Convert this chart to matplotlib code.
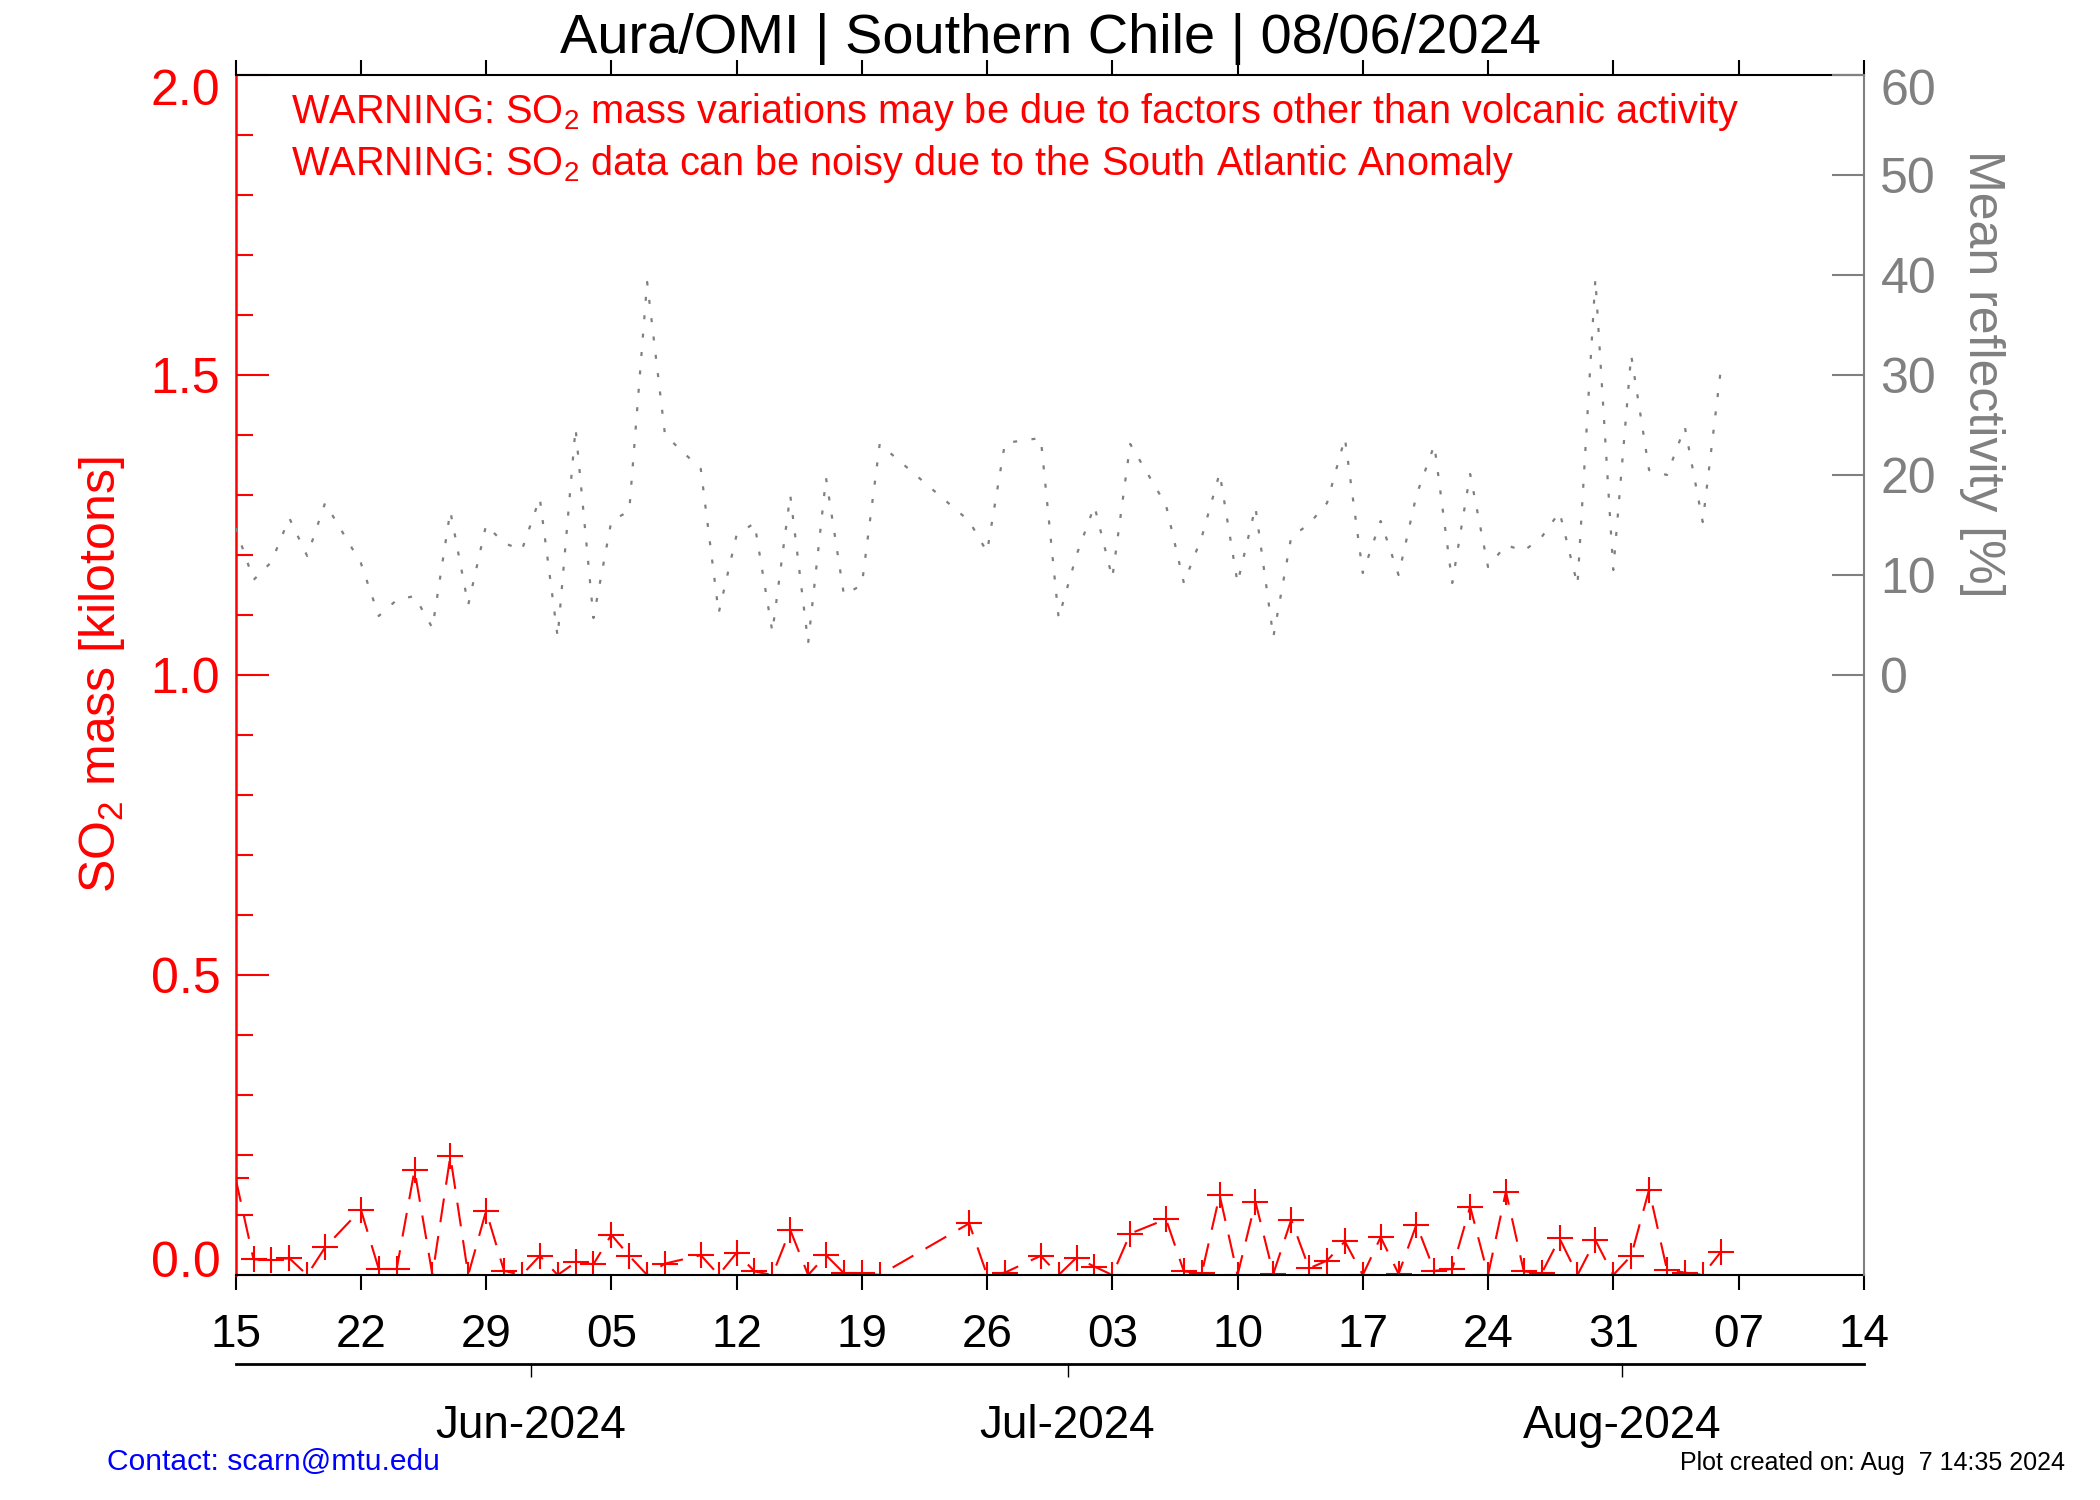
import matplotlib
matplotlib.use("Agg")
import matplotlib.pyplot as plt
import matplotlib.dates as mdates
from matplotlib.transforms import ScaledTranslation
import pandas as pd

plt.rcParams["font.family"] = ["Liberation Sans", "DejaVu Sans"]
plt.rcParams["mathtext.fontset"] = "custom"
plt.rcParams["mathtext.rm"] = "Liberation Sans"
plt.rcParams["mathtext.it"] = "Liberation Sans:italic"

# days since 2024-05-15 with an OMI overpass
start = "2024-05-15"
n_days = 91
day = [0, 1, 2, 3, 4, 5, 7, 8, 9, 10, 11, 12, 13, 14, 15, 16, 17, 18, 19, 20,
       21, 22, 23, 24, 26, 27, 28, 29, 30, 31, 32, 33, 34, 35, 36, 41, 42, 43,
       45, 46, 47, 48, 49, 50, 52, 53, 54, 55, 56, 57, 58, 59, 60, 61, 62, 63,
       64, 65, 66, 67, 68, 69, 70, 71, 72, 73, 74, 75, 76, 77, 78, 79, 80, 81,
       82, 83]
so2_mass = [0.161, 0.026, 0.025, 0.028, 0.0, 0.046, 0.109, 0.010, 0.010, 0.175,
            0.0, 0.198, 0.0, 0.107, 0.007, 0.0, 0.032, 0.0, 0.021, 0.018,
            0.067, 0.032, 0.0, 0.019, 0.033, 0.0, 0.037, 0.006, 0.0, 0.075,
            0.0, 0.033, 0.003, 0.003, 0.0, 0.086, 0.0, 0.004,
            0.032, 0.0, 0.029, 0.014, 0.0, 0.069, 0.093, 0.006, 0.003, 0.133,
            0.0, 0.122, 0.002, 0.092, 0.011, 0.024, 0.056, 0.0,
            0.063, 0.002, 0.084, 0.007, 0.010, 0.114, 0.0, 0.139, 0.006, 0.003,
            0.061, 0.0, 0.058, 0.0, 0.032, 0.142, 0.009, 0.004,
            0.0, 0.038]
reflectivity = [14.7, 9.5, 11.3, 15.7, 11.9, 17.2, 11.2, 5.9, 7.5, 7.9,
                4.7, 16.4, 7.0, 15.0, 13.2, 12.5, 17.7, 3.8, 24.7, 5.7,
                15.4, 16.4, 39.3, 24.0, 20.6, 6.2, 14.0, 15.2, 4.3, 18.0,
                3.2, 19.7, 8.0, 9.0, 23.1, 15.4, 12.3, 23.2,
                23.7, 5.7, 12.0, 16.9, 9.7, 23.1, 17.0, 9.2, 13.8, 20.2,
                9.2, 16.8, 3.8, 13.8, 15.1, 17.2, 23.7, 10.2,
                15.4, 10.0, 18.0, 23.0, 9.2, 20.1, 10.8, 13.0, 12.4, 13.8,
                16.3, 9.0, 39.6, 10.5, 32.0, 20.5, 20.0, 24.8,
                15.3, 30.4]

month_starts = ["2024-06-01", "2024-07-01", "2024-08-01"]
month_labels = ["Jun-2024", "Jul-2024", "Aug-2024"]
so2_ticks = [0.0, 0.5, 1.0, 1.5, 2.0]
refl_ticks = [0, 10, 20, 30, 40, 50, 60]

t0 = pd.Timestamp(start)
dates = t0 + pd.to_timedelta(day, unit="D")
week_ticks = pd.date_range(t0, t0 + pd.Timedelta(days=n_days), freq="7D")

fig = plt.figure(figsize=(21, 15), dpi=100)
ax = fig.add_axes([0.1122, 0.15, 0.7753, 0.80])

ax.plot(dates, so2_mass, color="red", lw=1.5, ls=(0, (11.5, 6.7)),
        marker="+", ms=19, mew=1.5)
ax.set_xlim(t0, t0 + pd.Timedelta(days=n_days))
ax.set_ylim(0, 2.0)

ax.set_xticks(week_ticks)
ax.xaxis.set_major_formatter(mdates.DateFormatter("%d"))
ax.tick_params(axis="x", which="both", top=True, direction="out",
               length=10.5, width=1.5, labelsize=33, pad=17)

ax.set_yticks(so2_ticks)
ax.set_yticks([v / 10 for v in range(21)], minor=True)
ax.yaxis.set_major_formatter(matplotlib.ticker.FormatStrFormatter("%.1f"))
ax.tick_params(axis="y", which="major", direction="in", length=24,
               width=1.5, colors="red", labelsize=36, pad=11)
ax.tick_params(axis="y", which="minor", direction="in", length=12,
               width=1.5, colors="red")

for side in ["top", "bottom"]:
    ax.spines[side].set_linewidth(1.5)
ax.spines["left"].set_color("red")
ax.spines["left"].set_linewidth(1.8)
ax.spines["right"].set_visible(False)

# month axis underneath
sec = ax.secondary_xaxis(-0.0742)
month_pos = mdates.date2num(pd.to_datetime(month_starts) - pd.Timedelta(hours=12))
sec.set_xticks(month_pos, labels=month_labels)
sec.tick_params(direction="out", length=9.5, width=1, labelsize=33, pad=19)
sec.spines["bottom"].set_linewidth(2.0)

# reflectivity on the right
ax2 = ax.twinx()
ax2.plot(dates, reflectivity, color="gray", lw=1.6, ls=(0, (1.8, 6.5)))
ax2.set_ylim(-60, 60)
ax2.set_yticks(refl_ticks)
ax2.tick_params(axis="y", direction="in", length=23, width=1.5,
                colors="gray", labelsize=36, pad=12)
for side in ["top", "bottom", "left"]:
    ax2.spines[side].set_visible(False)
ax2.spines["right"].set_color("gray")
ax2.spines["right"].set_linewidth(1.5)

# keep end labels inside the frame like the original
down = ScaledTranslation(0, -0.12, fig.dpi_scale_trans)
up = ScaledTranslation(0, 0.16, fig.dpi_scale_trans)
ylabels = ax.get_yticklabels()
ylabels[-1].set_transform(ylabels[-1].get_transform() + down)
ylabels[0].set_transform(ylabels[0].get_transform() + up)
rlabels = ax2.get_yticklabels()
rlabels[-1].set_transform(rlabels[-1].get_transform() + down)

ax.text(0.034, 0.96,
        r"WARNING: SO$_\mathregular{2}$ mass variations may be due to factors other than volcanic activity",
        transform=ax.transAxes, color="red", fontsize=28.6, va="baseline")
ax.text(0.034, 0.9167,
        r"WARNING: SO$_\mathregular{2}$ data can be noisy due to the South Atlantic Anomaly",
        transform=ax.transAxes, color="red", fontsize=28.6, va="baseline")

fig.text(0.5, 0.9647, "Aura/OMI | Southern Chile | 08/06/2024",
         ha="center", va="baseline", fontsize=40.3)
fig.text(0.0484, 0.55, r"SO$_\mathregular{2}$ mass [kilotons]", rotation=90,
         ha="center", va="center", color="red", fontsize=36)
fig.text(0.944, 0.7507, "Mean reflectivity [%]", rotation=270,
         ha="center", va="center", color="gray", fontsize=36)

fig.text(0.0508, 0.02, "Contact: scarn@mtu.edu", color="blue", fontsize=21.6,
         va="baseline")
fig.text(0.9833, 0.02, "Plot created on: Aug  7 14:35 2024", fontsize=18,
         ha="right", va="baseline")

fig.savefig("out.png", dpi=100)
